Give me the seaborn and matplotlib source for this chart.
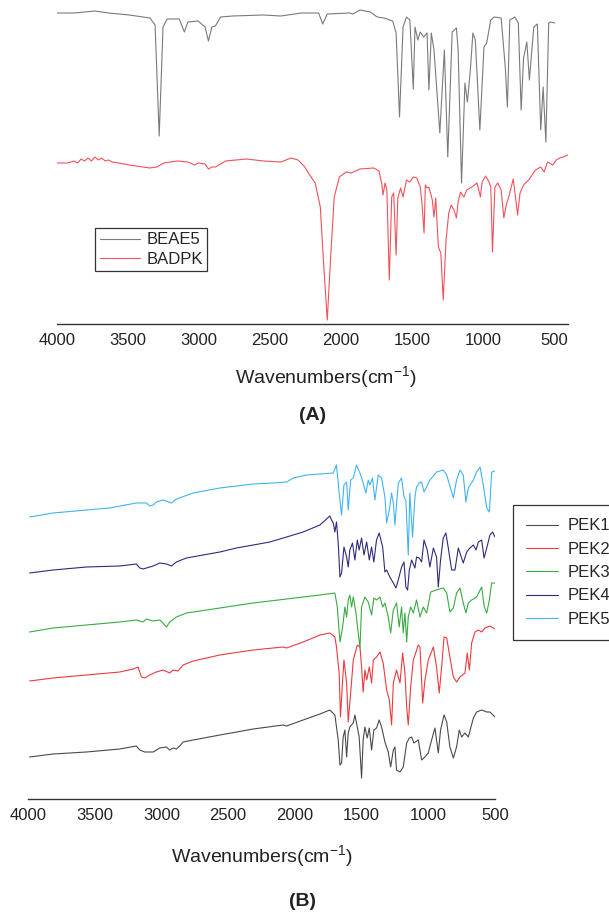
import matplotlib
matplotlib.use("Agg")
import matplotlib.pyplot as plt
import pandas as pd
import seaborn as sns
from matplotlib.ticker import MultipleLocator

# ---------------- panel A: monomers (wavenumber cm-1, transmittance a.u.) ----------------
BEAE5_WN = [4000, 3879, 3733, 3636, 3491, 3345, 3309, 3280, 3253, 3224,
            3139, 3103, 3078, 3006, 2957, 2933, 2909, 2884, 2848, 2763,
            2545, 2423, 2278, 2157, 2128, 2096, 1938, 1914, 1866, 1793,
            1744, 1696, 1635, 1611, 1587, 1562, 1538, 1514, 1490, 1478,
            1458, 1441, 1417, 1393, 1380, 1363, 1344, 1303, 1271, 1247,
            1216, 1186, 1174, 1150, 1126, 1109, 1089, 1070, 1053, 1021,
            992, 973, 944, 920, 871, 842, 827, 810, 774, 750,
            730, 713, 690, 672, 641, 616, 592, 575, 556, 536,
            520, 495]
BEAE5_T = [311, 311, 313, 311, 309, 306, 299, 188, 297, 305,
           305, 292, 302, 303, 297, 283, 297, 298, 307, 308,
           309, 308, 311, 311, 300, 310, 311, 310, 314, 312,
           307, 306, 303, 291, 207, 297, 307, 304, 235, 297,
           284, 292, 287, 291, 234, 291, 274, 191, 274, 167,
           292, 296, 274, 141, 241, 222, 252, 291, 284, 194,
           277, 281, 304, 307, 306, 257, 217, 304, 307, 301,
           214, 266, 282, 244, 297, 300, 194, 237, 182, 301,
           302, 301]

BADPK_WN = [4000, 3927, 3879, 3854, 3830, 3806, 3782, 3757, 3733, 3709,
            3685, 3660, 3636, 3612, 3563, 3491, 3394, 3345, 3297, 3248,
            3151, 3078, 3030, 3006, 2957, 2933, 2909, 2884, 2860, 2812,
            2666, 2545, 2423, 2351, 2302, 2254, 2229, 2181, 2145, 2120,
            2096, 2072, 2047, 2011, 1963, 1926, 1866, 1769, 1732, 1713,
            1703, 1689, 1676, 1659, 1642, 1628, 1611, 1599, 1579, 1562,
            1538, 1514, 1490, 1465, 1441, 1429, 1414, 1405, 1393, 1380,
            1356, 1344, 1332, 1313, 1296, 1279, 1259, 1240, 1223, 1203,
            1186, 1174, 1157, 1133, 1114, 1077, 1041, 1017, 1005, 980,
            956, 944, 932, 915, 895, 871, 852, 835, 810, 786,
            769, 755, 738, 713, 677, 629, 592, 568, 544, 507,
            483, 459, 435, 398]
BADPK_T = [161, 161, 163, 161, 165, 163, 166, 163, 167, 164,
           166, 163, 164, 162, 161, 159, 157, 156, 157, 161,
           163, 162, 159, 161, 160, 155, 157, 157, 159, 163,
           165, 163, 162, 166, 164, 157, 151, 141, 117, 57,
           4, 67, 127, 147, 152, 151, 155, 156, 153, 141,
           129, 141, 134, 44, 127, 131, 69, 126, 136, 127,
           144, 142, 147, 146, 137, 121, 91, 139, 136, 137,
           124, 107, 126, 77, 71, 24, 84, 111, 119, 114,
           106, 122, 132, 127, 134, 137, 141, 127, 142, 148,
           142, 137, 72, 137, 141, 134, 106, 119, 131, 145,
           126, 109, 131, 139, 144, 154, 157, 152, 162, 159,
           164, 166, 167, 169]

# ---------------- panel B: polymers (offset stacked) ----------------
PEK1_WN = [3988, 3812, 3562, 3312, 3188, 3162, 3125, 3062, 3012, 2962,
           2938, 2912, 2888, 2862, 2838, 2762, 2562, 2312, 2088, 2062,
           1938, 1812, 1738, 1700, 1675, 1662, 1650, 1638, 1625, 1612,
           1600, 1588, 1562, 1550, 1532, 1518, 1500, 1488, 1475, 1458,
           1442, 1425, 1408, 1388, 1368, 1350, 1325, 1300, 1282, 1262,
           1250, 1238, 1212, 1188, 1162, 1142, 1125, 1108, 1075, 1050,
           1025, 1000, 975, 950, 925, 908, 882, 862, 838, 812,
           788, 768, 750, 725, 700, 662, 638, 600, 562, 538,
           500]
PEK1_T = [42, 45, 47, 50, 53, 49, 47, 47, 51, 52,
          49, 51, 50, 53, 57, 59, 64, 70, 74, 73,
          79, 85, 89, 84, 59, 34, 36, 62, 69, 42,
          66, 72, 76, 84, 72, 62, 21, 59, 72, 61,
          71, 49, 69, 71, 79, 72, 57, 47, 32, 49,
          52, 29, 27, 32, 56, 61, 62, 56, 59, 39,
          42, 46, 59, 71, 46, 69, 84, 77, 52, 41,
          52, 69, 62, 66, 62, 81, 87, 89, 87, 87,
          82]

PEK2_WN = [3988, 3812, 3562, 3312, 3212, 3175, 3150, 3125, 3088, 3038,
           2988, 2938, 2912, 2875, 2838, 2762, 2562, 2312, 2088, 2062,
           1938, 1812, 1738, 1700, 1688, 1668, 1658, 1642, 1632, 1612,
           1600, 1582, 1562, 1532, 1512, 1500, 1488, 1475, 1462, 1442,
           1425, 1412, 1388, 1362, 1338, 1312, 1292, 1275, 1262, 1238,
           1212, 1192, 1175, 1162, 1150, 1132, 1112, 1075, 1062, 1042,
           1025, 1000, 962, 938, 918, 900, 882, 862, 838, 812,
           788, 762, 725, 708, 692, 675, 650, 625, 600, 575,
           538, 500]
PEK2_T = [118, 121, 124, 127, 130, 132, 122, 121, 124, 127,
          129, 126, 129, 128, 134, 138, 144, 149, 152, 151,
          157, 164, 166, 162, 152, 126, 82, 119, 139, 116,
          77, 106, 139, 154, 152, 132, 107, 129, 119, 132,
          116, 139, 142, 147, 136, 109, 99, 74, 116, 129,
          116, 146, 126, 92, 74, 112, 139, 154, 152, 96,
          119, 139, 152, 132, 106, 132, 162, 161, 142, 122,
          117, 122, 126, 146, 129, 156, 167, 169, 167, 171,
          173, 170]

PEK3_WN = [3988, 3812, 3562, 3312, 3188, 3138, 3112, 3062, 3012, 2988,
           2962, 2938, 2888, 2812, 2562, 2312, 2062, 1812, 1700, 1682,
           1662, 1642, 1625, 1612, 1600, 1588, 1575, 1562, 1542, 1525,
           1512, 1500, 1475, 1450, 1425, 1408, 1388, 1362, 1342, 1325,
           1300, 1282, 1262, 1238, 1218, 1200, 1188, 1175, 1162, 1150,
           1132, 1112, 1088, 1062, 1038, 1012, 982, 938, 888, 862,
           838, 812, 788, 762, 738, 718, 700, 675, 638, 600,
           580, 562, 542, 525, 500]
PEK3_T = [167, 171, 174, 177, 179, 177, 180, 178, 179, 176,
          172, 177, 182, 186, 191, 196, 200, 204, 206, 192,
          157, 172, 192, 182, 199, 204, 192, 202, 186, 166,
          151, 192, 202, 197, 184, 201, 199, 202, 192, 196,
          182, 166, 189, 196, 172, 192, 166, 186, 157, 182,
          192, 186, 199, 182, 192, 186, 207, 209, 211, 206,
          187, 191, 206, 211, 196, 186, 196, 199, 202, 212,
          192, 186, 199, 216, 216]

PEK4_WN = [3988, 3812, 3562, 3312, 3188, 3162, 3138, 3062, 3012, 2962,
           2925, 2888, 2812, 2688, 2562, 2438, 2312, 2188, 2062, 1938,
           1812, 1738, 1725, 1712, 1700, 1688, 1675, 1662, 1650, 1632,
           1612, 1600, 1588, 1568, 1550, 1532, 1518, 1500, 1482, 1462,
           1442, 1425, 1408, 1388, 1368, 1342, 1325, 1312, 1288, 1262,
           1242, 1225, 1200, 1182, 1168, 1155, 1142, 1125, 1100, 1088,
           1068, 1050, 1032, 1008, 988, 962, 938, 925, 908, 888,
           868, 850, 825, 800, 775, 758, 738, 712, 688, 662,
           642, 625, 600, 582, 562, 538, 518, 500]
PEK4_T = [226, 229, 232, 233, 235, 231, 230, 233, 236, 235,
          233, 237, 241, 244, 247, 251, 254, 257, 262, 267,
          274, 283, 279, 276, 267, 277, 256, 222, 226, 252,
          242, 232, 249, 256, 239, 259, 249, 261, 244, 257,
          239, 252, 237, 259, 266, 252, 227, 229, 222, 216,
          211, 219, 232, 237, 212, 209, 229, 239, 231, 242,
          241, 237, 259, 249, 232, 251, 242, 212, 239, 261,
          266, 251, 229, 229, 251, 244, 236, 247, 251, 254,
          249, 257, 259, 241, 251, 264, 267, 262]

PEK5_WN = [3988, 3812, 3562, 3388, 3188, 3112, 3088, 3062, 3038, 2988,
           2925, 2888, 2762, 2562, 2312, 2162, 2062, 2012, 1912, 1812,
           1712, 1688, 1668, 1650, 1632, 1612, 1600, 1582, 1562, 1538,
           1512, 1488, 1468, 1450, 1438, 1418, 1400, 1375, 1350, 1325,
           1312, 1292, 1275, 1262, 1250, 1225, 1200, 1182, 1168, 1150,
           1138, 1118, 1100, 1088, 1068, 1050, 1032, 1012, 988, 938,
           888, 862, 812, 788, 762, 738, 718, 700, 662, 638,
           612, 588, 562, 542, 525, 500]
PEK5_T = [282, 286, 289, 291, 296, 296, 293, 294, 297, 299,
          296, 300, 306, 311, 315, 316, 317, 321, 324, 325,
          326, 334, 306, 284, 314, 317, 289, 319, 321, 334,
          326, 316, 306, 319, 314, 321, 299, 324, 321, 302,
          276, 289, 306, 296, 274, 316, 321, 302, 299, 244,
          306, 262, 302, 312, 316, 317, 307, 312, 319, 327,
          329, 324, 301, 319, 329, 324, 297, 311, 319, 327,
          332, 314, 291, 287, 327, 328]

SAMPLES_A = ["BEAE5", "BADPK"]
SAMPLES_B = ["PEK1", "PEK2", "PEK3", "PEK4", "PEK5"]
COLORS_A = {"BEAE5": "#7a7a7a", "BADPK": "#f0525a"}
COLORS_B = {"PEK1": "#4a4a4a", "PEK2": "#ec3a3f", "PEK3": "#3aab44",
            "PEK4": "#2d2b7c", "PEK5": "#40b4f2"}


def spectra_frame(series):
    parts = []
    for name, (wn, t) in series.items():
        parts.append(pd.DataFrame({"wavenumber": wn, "transmittance": t, "sample": name}))
    return pd.concat(parts, ignore_index=True)


def style_axis(ax, right_limit, top_limit):
    ax.set_xlim(4000, right_limit)
    ax.set_ylim(0, top_limit)
    ax.xaxis.set_major_locator(MultipleLocator(500))
    ax.xaxis.set_minor_locator(MultipleLocator(250))
    for side in ("top", "left", "right"):
        ax.spines[side].set_visible(False)
    ax.spines["bottom"].set_color("#333333")
    ax.spines["bottom"].set_linewidth(1.0)
    ax.tick_params(axis="x", which="major", direction="out", length=4.5, width=1.0,
                   color="#333333", labelsize=12, labelcolor="#222222", pad=2)
    ax.tick_params(axis="x", which="minor", direction="out", length=2.5, width=1.0,
                   color="#333333")
    ax.set_yticks([])
    ax.set_ylabel("")
    ax.set_xlabel("Wavenumbers(cm$^{-1}$)", fontsize=14, color="#222222")


sns.set_style("white")
plt.rcParams["font.family"] = ["Liberation Sans", "DejaVu Sans"]
plt.rcParams["mathtext.fontset"] = "custom"
plt.rcParams["mathtext.rm"] = "Liberation Sans"

fig = plt.figure(figsize=(6.09, 9.14), dpi=100)
W, H = 609, 914

# panel A
axA = fig.add_axes([57 / W, 1 - 324 / H, 511 / W, 316 / H])
dfA = spectra_frame({"BEAE5": (BEAE5_WN, BEAE5_T), "BADPK": (BADPK_WN, BADPK_T)})
sns.lineplot(data=dfA, x="wavenumber", y="transmittance", hue="sample", hue_order=SAMPLES_A,
             palette=COLORS_A, estimator=None, sort=False, linewidth=0.8, ax=axA)
style_axis(axA, 400, 316)
axA.xaxis.set_label_coords(0.526, -0.127)
sns.move_legend(axA, "lower left", bbox_to_anchor=(0.0744, 0.1677), title=None,
                frameon=True, fancybox=False, edgecolor="#333333", framealpha=1,
                fontsize=12, handlelength=2.4, handletextpad=0.4, borderpad=0.27,
                labelspacing=0.25, borderaxespad=0)
axA.get_legend().get_frame().set_linewidth(0.9)

# panel B
axB = fig.add_axes([28 / W, 1 - 799 / H, 467 / W, 340 / H])
dfB = spectra_frame({"PEK1": (PEK1_WN, PEK1_T), "PEK2": (PEK2_WN, PEK2_T),
                     "PEK3": (PEK3_WN, PEK3_T), "PEK4": (PEK4_WN, PEK4_T),
                     "PEK5": (PEK5_WN, PEK5_T)})
sns.lineplot(data=dfB, x="wavenumber", y="transmittance", hue="sample", hue_order=SAMPLES_B,
             palette=COLORS_B, estimator=None, sort=False, linewidth=0.8, ax=axB)
style_axis(axB, 500, 340)
axB.xaxis.set_label_coords(0.501, -0.132)
sns.move_legend(axB, "lower left", bbox_to_anchor=(1.0385, 0.4676), title=None,
                frameon=True, fancybox=False, edgecolor="#333333", framealpha=1,
                fontsize=12, handlelength=1.9, handletextpad=0.6, borderpad=0.8,
                labelspacing=0.5, borderaxespad=0)
axB.get_legend().get_frame().set_linewidth(0.9)

fig.text(313 / W, 1 - 415 / H, "(A)", ha="center", va="center", fontsize=14,
         fontweight="bold", color="#222222")
fig.text(302 / W, 1 - 901 / H, "(B)", ha="center", va="center", fontsize=14,
         fontweight="bold", color="#222222")

fig.savefig("out.png", dpi=100)
